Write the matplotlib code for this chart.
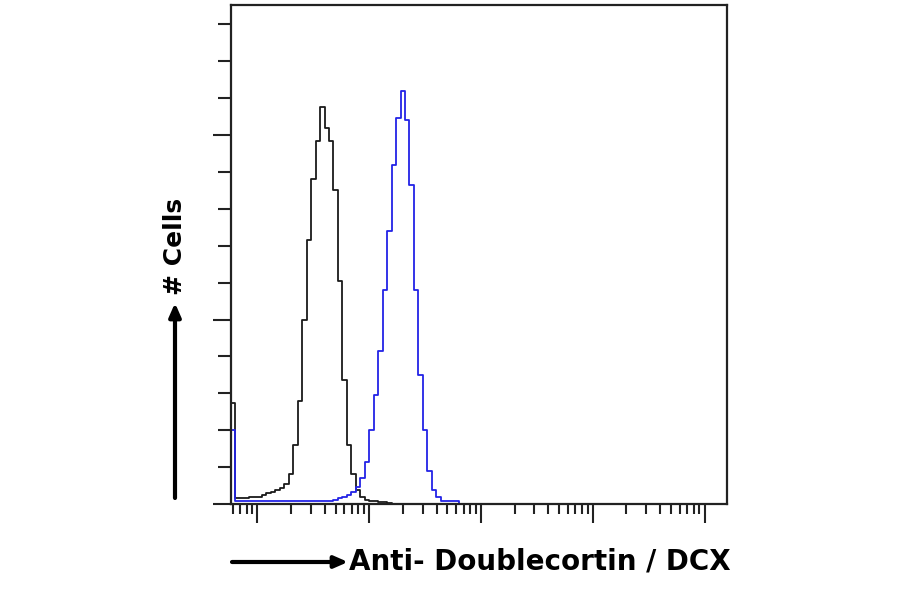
import numpy as np
import matplotlib.pyplot as plt
from matplotlib.ticker import LogLocator, MultipleLocator, NullFormatter

# Flow cytometry histogram: isotype control (black) vs Anti-DCX (blue)

# channels are 0.04 decades wide, first channel starts at 10^-0.24
chan_start = -0.24
chan_width = 0.04

# counts per channel, channels past the list are empty
control_counts = [55, 3, 3, 3, 4, 4, 4, 5, 6, 6.5,
                  7.6, 8.7, 11, 16, 32, 56, 100, 143, 176, 197,
                  215, 204, 197, 170, 121, 67, 32, 16, 7.6, 4,
                  2, 1.5, 1.5, 1, 1, 0.8]
dcx_counts = [40, 1.5, 1.5, 1.5, 1.5, 1.5, 1.5, 1.5, 1.5, 1.5,
              1.5, 1.5, 1.5, 1.5, 1.5, 1.5, 1.5, 1.5, 1.5, 1.5,
              1.5, 1.5, 1.5, 2, 3, 4, 5, 6.5, 9, 14,
              23, 40, 59, 83, 116, 148, 184, 209, 224, 208,
              173, 116, 70, 40, 18, 7.6, 4, 1.5, 1.5, 1.5,
              1.5]

x_range = (10 ** -0.237, 10 ** 4.201)
y_max = 270.5

fig = plt.figure(figsize=(9, 5.94), dpi=100)
ax = fig.add_axes([231 / 900, 1 - 504 / 594, 496 / 900, 499 / 594])

n_chan = max(len(control_counts), len(dcx_counts)) + 10


def step_curve(counts):
    c = np.zeros(n_chan)
    c[:len(counts)] = counts
    edges = 10 ** (chan_start + chan_width * np.arange(n_chan + 1))
    return edges, np.append(c, c[-1])


e, c = step_curve(control_counts)
ax.step(e, c, where='post', color='#1a1a1a', lw=1.3)
e, c = step_curve(dcx_counts)
ax.step(e, c, where='post', color='#2323e6', lw=1.3)

ax.set_xscale('log')
ax.set_xlim(*x_range)
ax.set_ylim(0, y_max)

ax.xaxis.set_major_locator(LogLocator(base=10, numticks=10))
ax.xaxis.set_minor_locator(LogLocator(base=10, subs=np.arange(2, 10), numticks=10))
ax.xaxis.set_major_formatter(NullFormatter())
ax.xaxis.set_minor_formatter(NullFormatter())
ax.yaxis.set_major_locator(MultipleLocator(100))
ax.yaxis.set_minor_locator(MultipleLocator(20))
ax.yaxis.set_major_formatter(NullFormatter())

ax.tick_params(axis='x', which='major', direction='out', length=13.5, width=1.5, color='#222')
ax.tick_params(axis='x', which='minor', direction='out', length=7, width=1.5, color='#222')
ax.tick_params(axis='y', which='major', direction='out', length=13, width=1.5, color='#222')
ax.tick_params(axis='y', which='minor', direction='out', length=9.5, width=1.5, color='#222')

for s in ax.spines.values():
    s.set_linewidth(1.6)
    s.set_color('#222')

# axis titles with arrows
fig.text(175 / 900, 1 - 246 / 594, '# Cells', rotation=90, ha='center', va='center',
         fontsize=18, fontweight='bold', family='DejaVu Sans')
fig.text(349 / 900, 1 - 562 / 594, 'Anti- Doublecortin / DCX', ha='left', va='center',
         fontsize=20, fontweight='bold', family='DejaVu Sans')

fig.patches.append(plt.matplotlib.patches.FancyArrowPatch(
    (175 / 900, 1 - 498 / 594), (175 / 900, 1 - 303 / 594), transform=fig.transFigure,
    arrowstyle='-|>,head_length=8,head_width=3.5', lw=3, color='black', shrinkA=0, shrinkB=0))
fig.patches.append(plt.matplotlib.patches.FancyArrowPatch(
    (232 / 900, 1 - 562 / 594), (348 / 900, 1 - 562 / 594), transform=fig.transFigure,
    arrowstyle='-|>,head_length=8,head_width=3.5', lw=3, color='black', shrinkA=0, shrinkB=0))

fig.savefig('out.png', dpi=100)
